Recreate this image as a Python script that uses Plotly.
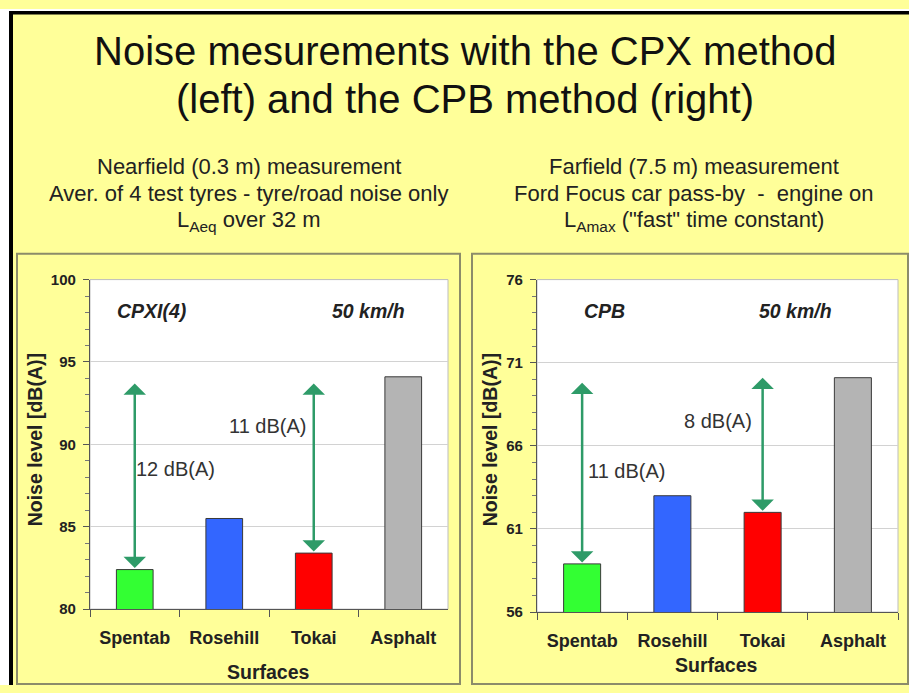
import plotly.graph_objects as go

W, H = 909, 693

# ---------------- data ----------------
surfaces = ["Spentab", "Rosehill", "Tokai", "Asphalt"]
bar_colors = ["#33FF33", "#3366FF", "#FF0000", "#B4B4B4"]

cpx_levels = [82.4, 85.5, 83.4, 94.1]          # CPXI(4), dB(A)
cpb_levels = [58.9, 63.0, 62.0, 70.1]          # CPB, dB(A)

cpx_yticks = [80, 85, 90, 95, 100]
cpb_yticks = [56, 61, 66, 71, 76]

# difference arrows: (surface, low end, high end)
cpx_arrows = [("Spentab", 82.4, 93.7), ("Tokai", 83.4, 93.7)]
cpb_arrows = [("Spentab", 58.9, 69.8), ("Tokai", 62.0, 70.1)]
cpx_diff_labels = [("Spentab", 88.5, "12 dB(A)"), ("Rosehill", 91.1, "11 dB(A)")]
cpb_diff_labels = [("Spentab", 64.5, "11 dB(A)"), ("Rosehill", 67.5, "8 dB(A)")]

title_lines = ["Noise mesurements with the CPX method", "(left) and the CPB method (right)"]
left_sub = ["Nearfield (0.3 m) measurement",
            "Aver. of 4 test tyres - tyre/road noise only",
            "L<sub>Aeq</sub> over 32 m"]
right_sub = ["Farfield (7.5 m) measurement",
             "Ford Focus car pass-by  -  engine on",
             "L<sub>Amax</sub> (\"fast\" time constant)"]

FONT = "Liberation Sans, Arial, sans-serif"
ARROW = "#2E9B68"

# the page photo maps figure y to 8 + y*677/693 screen px; compensate
TOP_PAD, SPAN = 8.0, 677.0


def X(px):
    return px / W


def Y(py):
    v = 1 - (py - TOP_PAD) / SPAN
    return min(1.0, max(0.0015, v))


fig = go.Figure()
fig.add_trace(go.Bar(x=surfaces, y=cpx_levels, marker=dict(color=bar_colors,
                     line=dict(color="#3a3a3a", width=1)), xaxis="x", yaxis="y",
                     hoverinfo="skip", showlegend=False))
fig.add_trace(go.Bar(x=surfaces, y=cpb_levels, marker=dict(color=bar_colors,
                     line=dict(color="#3a3a3a", width=1)), xaxis="x2", yaxis="y2",
                     hoverinfo="skip", showlegend=False))

xcommon = dict(type="category", showline=True, linecolor="#555555", linewidth=1.2,
               ticks="outside", tickson="boundaries", ticklen=7, tickcolor="#555555",
               tickfont=dict(family=FONT, size=18, weight="bold", color="#222222"),
               ticklabelstandoff=12, showgrid=False, fixedrange=True)
ycommon = dict(showline=True, linecolor="#555555", linewidth=1.2, ticks="outside",
               ticklen=6, tickcolor="#555555",
               tickfont=dict(family=FONT, size=15, weight="bold", color="#222222"),
               showgrid=True, gridcolor="#D2D2D2", gridwidth=1, zeroline=False,
               minor=dict(dtick=1, ticks="outside", ticklen=4, tickcolor="#777777",
                          showgrid=False),
               ticklabelstandoff=4, fixedrange=True)

fig.update_layout(
    width=W, height=H, autosize=False,
    margin=dict(l=0, r=0, t=0, b=0),
    paper_bgcolor="#FFFF99",
    plot_bgcolor="#FFFFFF",
    bargap=0.59,
    xaxis=dict(domain=[X(90), X(448)], anchor="y", range=[-0.5, 3.5], **xcommon),
    yaxis=dict(domain=[Y(609), Y(279)], anchor="x", range=[80, 100],
               tickvals=cpx_yticks, **ycommon),
    xaxis2=dict(domain=[X(537), X(898)], anchor="y2", range=[-0.5, 3.5], **xcommon),
    yaxis2=dict(domain=[Y(612), Y(279)], anchor="x2", range=[56, 76],
                tickvals=cpb_yticks, **ycommon),
)

shapes = []
# white outer strip + black page border (top and left)
shapes.append(dict(type="rect", xref="paper", yref="paper", x0=0, x1=X(9), y0=0, y1=1,
                   fillcolor="white", line_width=0, layer="above"))
shapes.append(dict(type="rect", xref="paper", yref="paper", x0=0, x1=1, y0=Y(10), y1=1,
                   fillcolor="white", line_width=0, layer="above"))
shapes.append(dict(type="rect", xref="paper", yref="paper", x0=X(9), x1=1, y0=Y(13.5), y1=Y(10),
                   fillcolor="black", line_width=0, layer="above"))
shapes.append(dict(type="rect", xref="paper", yref="paper", x0=X(9), x1=X(13), y0=0, y1=Y(10),
                   fillcolor="black", line_width=0, layer="above"))
# panel frames
for x0, x1 in [(17, 460), (472, 908)]:
    shapes.append(dict(type="rect", xref="paper", yref="paper", x0=X(x0), x1=X(x1),
                       y0=Y(690), y1=Y(253), line=dict(color="#8C8C6A", width=2),
                       fillcolor="rgba(0,0,0,0)", layer="below"))
# light plot-area borders
for xr, yr in [("x domain", "y domain"), ("x2 domain", "y2 domain")]:
    shapes.append(dict(type="rect", xref=xr, yref=yr, x0=0, x1=1, y0=0, y1=1,
                       line=dict(color="#BDBDBD", width=1), layer="below"))
fig.update_layout(shapes=shapes)

ann = []
# titles
for txt, py in zip(title_lines, [50, 98]):
    ann.append(dict(text=txt, xref="paper", yref="paper", x=X(465), y=Y(py),
                    xanchor="center", yanchor="middle", showarrow=False,
                    font=dict(family=FONT, size=40, color="#111111")))
for txt, py in zip(left_sub, [166, 193, 220]):
    ann.append(dict(text=txt, xref="paper", yref="paper", x=X(249), y=Y(py),
                    xanchor="center", yanchor="middle", showarrow=False,
                    font=dict(family=FONT, size=22, color="#222222")))
for txt, py in zip(right_sub, [166, 193, 220]):
    ann.append(dict(text=txt, xref="paper", yref="paper", x=X(694), y=Y(py),
                    xanchor="center", yanchor="middle", showarrow=False,
                    font=dict(family=FONT, size=22, color="#222222")))

# in-plot labels
for xr, yr, lbl, px in [("x domain", "y domain", "CPXI(4)", 0.173),
                        ("x domain", "y domain", "50 km/h", 0.779),
                        ("x2 domain", "y2 domain", "CPB", 0.188),
                        ("x2 domain", "y2 domain", "50 km/h", 0.717)]:
    ann.append(dict(text="<b><i>" + lbl + "</i></b>", xref=xr, yref=yr, x=px, y=0.906,
                    xanchor="center", yanchor="middle", showarrow=False,
                    font=dict(family=FONT, size=19.5, color="#222222")))

# arrows
for xr, yr, arrows in [("x", "y", cpx_arrows), ("x2", "y2", cpb_arrows)]:
    for cat, lo, hi in arrows:
        ann.append(dict(x=cat, y=hi, ax=cat, ay=lo, xref=xr, yref=yr, axref=xr, ayref=yr,
                        text="", showarrow=True, arrowhead=1, startarrowhead=1,
                        arrowside="end+start", arrowsize=1.5, startarrowsize=1.5,
                        arrowwidth=2.5, arrowcolor=ARROW, standoff=0, startstandoff=0))
for xr, yr, labels, shifts in [("x", "y", cpx_diff_labels, [-1, 3]),
                               ("x2", "y2", cpb_diff_labels, [4, 10])]:
    for (cat, yv, txt), sh in zip(labels, shifts):
        ann.append(dict(text=txt, x=cat, y=yv, xref=xr, yref=yr, xanchor="left",
                        yanchor="middle", xshift=sh, showarrow=False,
                        font=dict(family=FONT, size=20, color="#333333")))

# axis titles
for px, py in [(35, 440), (490, 440)]:
    ann.append(dict(text="<b>Noise level [dB(A)]</b>", xref="paper", yref="paper",
                    x=X(px), y=Y(py), textangle=-90, showarrow=False,
                    xanchor="center", yanchor="middle",
                    font=dict(family=FONT, size=19.5, color="#222222")))
for px, py in [(268, 672), (716, 665)]:
    ann.append(dict(text="<b>Surfaces</b>", xref="paper", yref="paper",
                    x=X(px), y=Y(py), showarrow=False, xanchor="center", yanchor="middle",
                    font=dict(family=FONT, size=19.5, color="#222222")))

fig.update_layout(annotations=ann)
fig.write_html(
    "out.html",
    config={"displayModeBar": False, "responsive": False},
    post_script="document.body.style.margin='0';",
)
